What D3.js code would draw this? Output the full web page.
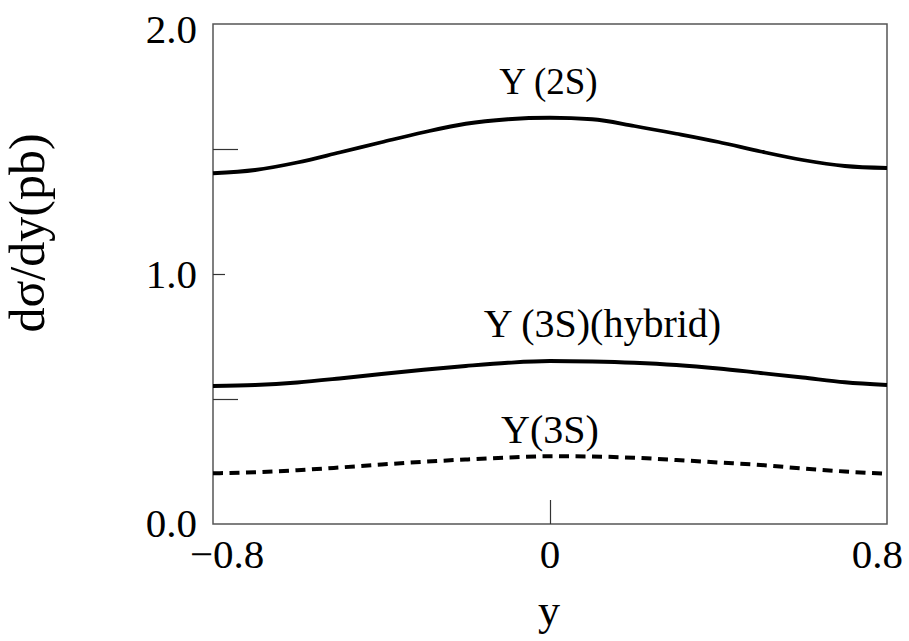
<!DOCTYPE html>
<html>
<head>
<meta charset="utf-8">
<script src="https://cdn.jsdelivr.net/npm/d3@7"></script>
<style>
  html, body { margin: 0; padding: 0; background: #fff; }
  svg { display: block; }
  text { font-family: "Liberation Serif", "Times New Roman", serif; fill: #000; }
</style>
</head>
<body>
<svg id="chart" width="909" height="641"></svg>
<script>
// ---- data ----
const rapidity = [-0.8, -0.7, -0.6, -0.5, -0.4, -0.3, -0.2, -0.1, 0, 0.1, 0.2, 0.3, 0.4, 0.5, 0.6, 0.7, 0.8];
const upsilon2S = [1.403, 1.416, 1.446, 1.486, 1.527, 1.567, 1.601, 1.619, 1.625, 1.619, 1.592, 1.561, 1.528, 1.490, 1.456, 1.432, 1.424];
const upsilon3SHybrid = [0.552, 0.556, 0.566, 0.582, 0.600, 0.617, 0.632, 0.645, 0.652, 0.650, 0.645, 0.636, 0.622, 0.604, 0.586, 0.567, 0.556];
const upsilon3S = [0.203, 0.207, 0.215, 0.226, 0.238, 0.249, 0.258, 0.266, 0.271, 0.270, 0.265, 0.256, 0.246, 0.236, 0.222, 0.210, 0.201];
const seriesNames = ["Y (2S)", "Y (3S)(hybrid)", "Y(3S)"];
const xTickValues = [-0.8, 0, 0.8];
const xTickLabels = ["\u22120.8", "0", "0.8"];
const yTickValues = [0, 1, 2];
const yTickLabels = ["0.0", "1.0", "2.0"];
const yMinorTicks = [0.5, 1.5];
const xLabel = "y";
const yLabel = "d\u03C3/dy(pb)";

// ---- layout ----
const svg = d3.select("#chart");
const L = 213, R = 887, T = 24, B = 524;
const x = d3.scaleLinear().domain([-0.8, 0.8]).range([L, R]);
const y = d3.scaleLinear().domain([0, 2]).range([B, T]);

// frame
svg.append("rect").attr("x", L).attr("y", T).attr("width", R - L).attr("height", B - T)
  .attr("fill", "none").attr("stroke", "#555").attr("stroke-width", 1.5);

// y ticks
const yMajorAxis = d3.axisLeft(y).tickValues([1]).tickSize(-12).tickFormat("");
svg.append("g").attr("transform", `translate(${L},0)`).call(yMajorAxis)
  .call(g => g.select(".domain").remove())
  .call(g => g.selectAll("line").attr("stroke", "#333").attr("stroke-width", 1.2));
const yMinorAxis = d3.axisLeft(y).tickValues(yMinorTicks).tickSize(-25).tickFormat("");
svg.append("g").attr("transform", `translate(${L},0)`).call(yMinorAxis)
  .call(g => g.select(".domain").remove())
  .call(g => g.selectAll("line").attr("stroke", "#333").attr("stroke-width", 1.2));

// x tick at 0
const xAxis = d3.axisBottom(x).tickValues([0]).tickSize(-24).tickFormat("");
svg.append("g").attr("transform", `translate(0,${B})`).call(xAxis)
  .call(g => g.select(".domain").remove())
  .call(g => g.selectAll("line").attr("stroke", "#333").attr("stroke-width", 1.2));

// y tick labels
const yLabOffset = { 0: 13, 1: 14, 2: 19 };
svg.append("g").selectAll("text").data(yTickValues).join("text")
  .attr("x", 197).attr("y", d => y(d) + yLabOffset[d])
  .attr("text-anchor", "end").attr("font-size", 41)
  .text((d, i) => yTickLabels[i]);

// x tick labels
const xLabAnchor = ["start", "middle", "end"];
const xLabDx = [-23, 0, 16];
svg.append("g").selectAll("text").data(xTickValues).join("text")
  .attr("x", (d, i) => x(d) + xLabDx[i]).attr("y", 568)
  .attr("text-anchor", (d, i) => xLabAnchor[i]).attr("font-size", 41)
  .text((d, i) => xTickLabels[i]);

// axis titles
svg.append("text").attr("x", 549).attr("y", 625).attr("text-anchor", "middle")
  .attr("font-size", 44).text(xLabel);
svg.append("text").attr("transform", "translate(44,233) rotate(-90)")
  .attr("text-anchor", "middle").attr("font-size", 50).text(yLabel);

// curves
const line = d3.line().x(d => x(d[0])).y(d => y(d[1])).curve(d3.curveMonotoneX);
const series = [
  { vals: upsilon2S, dash: null, w: 3.8 },
  { vals: upsilon3SHybrid, dash: null, w: 3.8 },
  { vals: upsilon3S, dash: "10,6.5", w: 4 }
];
series.forEach(s => {
  svg.append("path")
    .datum(rapidity.map((r, i) => [r, s.vals[i]]))
    .attr("d", line).attr("fill", "none").attr("stroke", "#000")
    .attr("stroke-width", s.w).attr("stroke-dasharray", s.dash);
});

// series labels
const labelPos = [
  { cx: 548.5, by: 94, fs: 37 },
  { cx: 602.5, by: 337, fs: 40 },
  { cx: 550, by: 443, fs: 40 }
];
svg.append("g").selectAll("text").data(seriesNames).join("text")
  .attr("x", (d, i) => labelPos[i].cx).attr("y", (d, i) => labelPos[i].by)
  .attr("text-anchor", "middle").attr("font-size", (d, i) => labelPos[i].fs)
  .text(d => d);
</script>
</body>
</html>
